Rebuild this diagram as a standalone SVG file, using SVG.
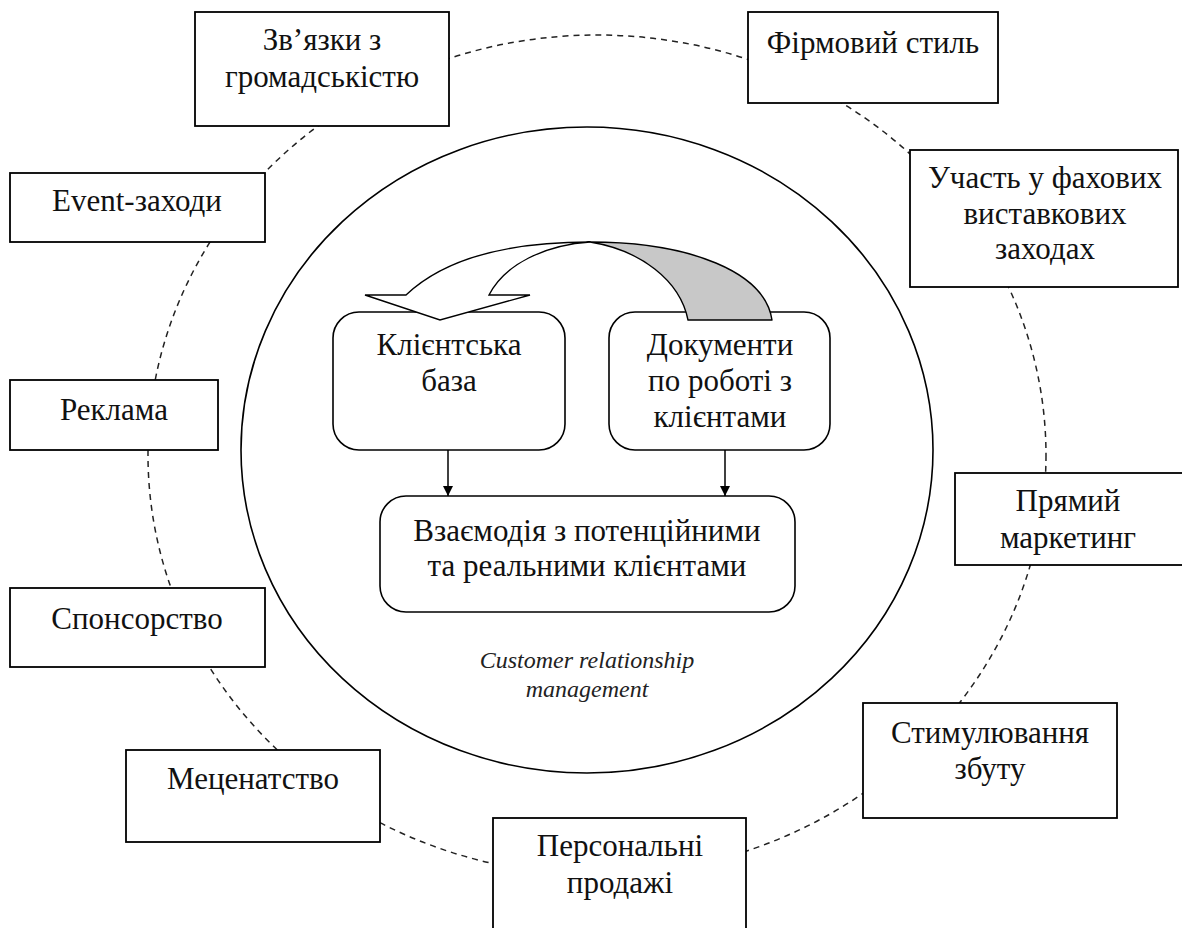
<svg xmlns="http://www.w3.org/2000/svg" width="1182" height="928" viewBox="0 0 1182 928">
<defs>
<style>
.box{fill:#fff;stroke:#000;stroke-width:1.8}
.rbox{fill:#fff;stroke:#000;stroke-width:1.6}
.t{font-family:"Liberation Serif","Times New Roman",serif;font-size:31px;fill:#111;text-anchor:middle}
.it{font-family:"Liberation Serif","Times New Roman",serif;font-size:24px;font-style:italic;fill:#222;text-anchor:middle}
.dash{fill:none;stroke:#222;stroke-width:1.5;stroke-dasharray:6 5}
.line{fill:none;stroke:#000;stroke-width:1.5}
</style>
<marker id="ah" viewBox="0 0 10 10" refX="10" refY="5" markerWidth="10" markerHeight="10" markerUnits="userSpaceOnUse" orient="auto">
<path d="M0,0 L10,5 L0,10 Z" fill="#000"/>
</marker>
</defs>
<rect width="1182" height="928" fill="#fff"/>
<g id="outer-ring">
<ellipse class="dash" cx="597" cy="455" rx="449" ry="420"/>
</g>
<g id="crm-circle">
<ellipse cx="587" cy="450" rx="346" ry="323" fill="none" stroke="#000" stroke-width="1.6"/>
<text class="it" x="587" y="668">Customer relationship</text>
<text class="it" x="587" y="697">management</text>
</g>
<g id="n-zviazky"><rect class="box" x="195" y="12" width="254" height="114"/><text class="t" x="322" y="50">Зв’язки з</text><text class="t" x="322" y="87">громадськістю</text></g>
<g id="n-firmovyi"><rect class="box" x="748" y="12" width="250" height="91"/><text class="t" x="873" y="53">Фірмовий стиль</text></g>
<g id="n-uchast"><rect class="box" x="910" y="150" width="268" height="137"/><text class="t" x="1045" y="188">Участь у фахових</text><text class="t" x="1045" y="224">виставкових</text><text class="t" x="1045" y="259">заходах</text></g>
<g id="n-event"><rect class="box" x="10" y="173" width="255" height="69"/><text class="t" x="137" y="211">Event-заходи</text></g>
<g id="n-reklama"><rect class="box" x="10" y="380" width="208" height="70"/><text class="t" x="114" y="420">Реклама</text></g>
<g id="n-sponsor"><rect class="box" x="10" y="588" width="255" height="79"/><text class="t" x="137" y="629">Спонсорство</text></g>
<g id="n-mecenat"><rect class="box" x="126" y="750" width="254" height="92"/><text class="t" x="253" y="789">Меценатство</text></g>
<g id="n-personal"><rect class="box" x="493" y="818" width="253" height="120"/><text class="t" x="620" y="856">Персональні</text><text class="t" x="620" y="893">продажі</text></g>
<g id="n-stymul"><rect class="box" x="863" y="703" width="254" height="115"/><text class="t" x="990" y="743">Стимулювання</text><text class="t" x="990" y="779">збуту</text></g>
<g id="n-priamyi"><rect class="box" x="955" y="473" width="235" height="92"/><text class="t" x="1068" y="511">Прямий</text><text class="t" x="1068" y="548">маркетинг</text></g>
<g id="n-baza"><rect class="rbox" x="333" y="312" width="232" height="138" rx="26"/><text class="t" x="449" y="355">Клієнтська</text><text class="t" x="449" y="391">база</text></g>
<g id="n-dokumenty"><rect class="rbox" x="609" y="312" width="221" height="138" rx="26"/><text class="t" x="720" y="355">Документи</text><text class="t" x="720" y="391">по роботі з</text><text class="t" x="720" y="427">клієнтами</text></g>
<g id="n-vzaiemodia"><rect class="rbox" x="380" y="496" width="415" height="116" rx="26"/><text class="t" x="587" y="541">Взаємодія з потенційними</text><text class="t" x="587" y="576">та реальними клієнтами</text></g>
<g id="connectors">
<line class="line" x1="448" y1="450" x2="448" y2="496" marker-end="url(#ah)"/>
<line class="line" x1="725" y1="450" x2="725" y2="496" marker-end="url(#ah)"/>
<path d="M590,242 C690,242 765,272 772,320 L688,320 C680,280 640,250 590,242 Z" fill="#c8c8c8" stroke="#000" stroke-width="1.4" stroke-linejoin="round"/>
<path d="M406,295 C445,258 510,242 590,242 C545,245 505,264 489,295 L530,295 L440,320 L365,295 Z" fill="#fff" stroke="#000" stroke-width="1.4" stroke-linejoin="miter"/>
</g>
</svg>
